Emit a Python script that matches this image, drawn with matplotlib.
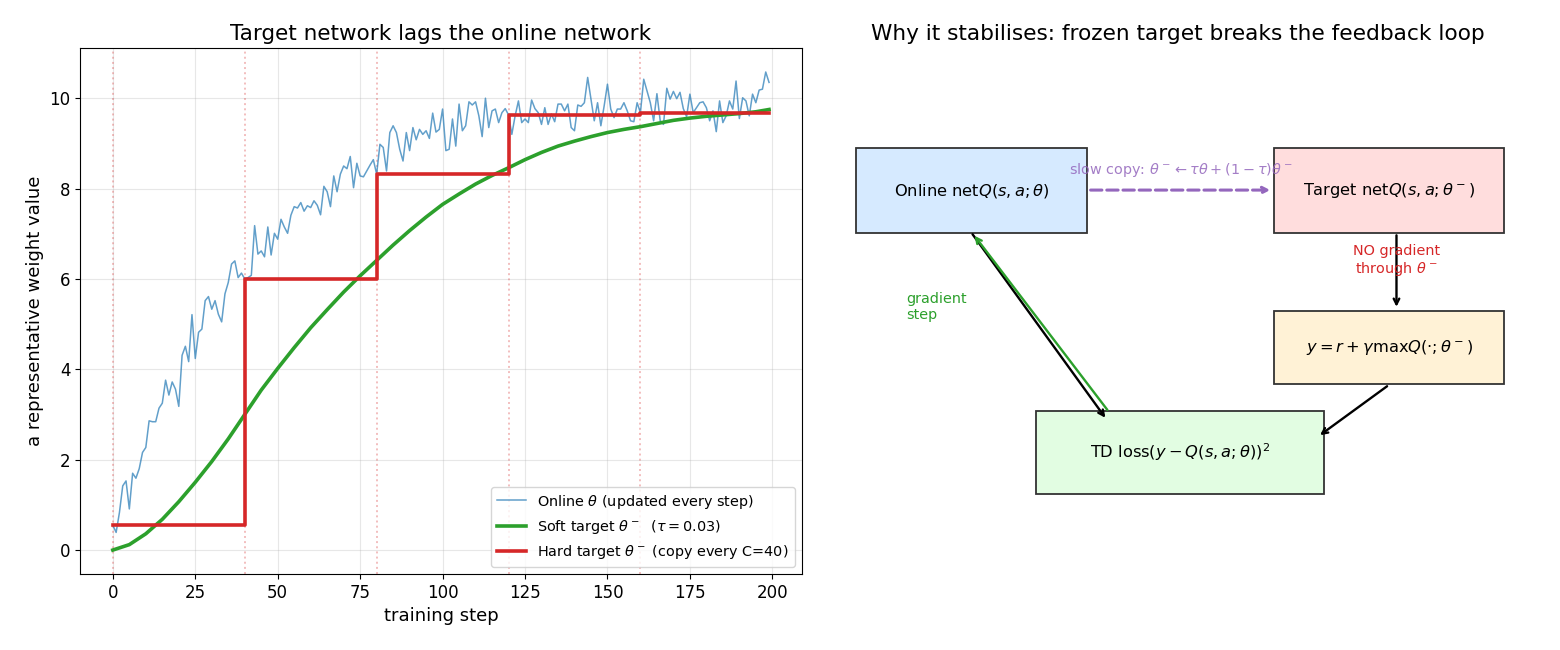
import numpy as np
import matplotlib.pyplot as plt
from matplotlib.patches import Rectangle

# online weight, one value per training step
online = [
    0.55, 0.39, 0.83, 1.42, 1.53, 0.91, 1.70, 1.59, 1.80, 2.16,
    2.27, 2.86, 2.84, 2.84, 3.14, 3.25, 3.76, 3.43, 3.72, 3.56,
    3.18, 4.31, 4.51, 4.17, 5.21, 4.24, 4.82, 4.89, 5.52, 5.61,
    5.33, 5.52, 5.22, 5.05, 5.67, 5.92, 6.33, 6.40, 6.03, 6.13,
    6.00, 6.03, 6.08, 7.18, 6.55, 6.62, 6.49, 7.15, 6.53, 7.01,
    6.88, 7.32, 7.15, 7.01, 7.41, 7.60, 7.57, 7.69, 7.50, 7.62,
    7.58, 7.73, 7.63, 7.42, 8.05, 7.93, 7.60, 8.28, 7.93, 8.32,
    8.50, 8.44, 8.71, 8.02, 8.56, 8.28, 8.26, 8.39, 8.52, 8.64,
    8.32, 8.98, 8.91, 8.39, 9.24, 9.39, 9.24, 8.87, 8.61, 9.24,
    8.84, 9.35, 9.08, 9.31, 9.20, 9.28, 9.11, 9.67, 9.25, 9.31,
    9.76, 8.84, 8.87, 9.54, 8.94, 9.87, 9.28, 9.39, 9.92, 9.85,
    9.92, 9.61, 9.15, 10.00, 9.35, 9.72, 9.76, 9.46, 9.68, 9.77,
    9.63, 9.20, 9.61, 9.94, 9.46, 9.54, 9.46, 9.96, 9.77, 9.68,
    9.42, 9.79, 9.42, 9.65, 9.48, 9.87, 9.87, 9.72, 9.87, 9.35,
    9.28, 9.85, 9.82, 9.90, 10.46, 9.98, 9.50, 9.90, 9.39, 9.83,
    10.31, 9.76, 9.57, 9.76, 9.76, 9.90, 9.72, 9.50, 9.48, 9.90,
    9.68, 10.42, 10.16, 9.90, 9.50, 10.10, 9.50, 9.42, 10.22, 9.98,
    10.15, 9.99, 10.13, 9.77, 9.59, 10.09, 9.68, 9.79, 9.90, 9.92,
    9.79, 9.50, 9.72, 9.26, 9.94, 9.46, 9.61, 9.94, 9.76, 10.38,
    9.55, 10.01, 9.94, 9.61, 10.09, 9.90, 10.18, 10.20, 10.58, 10.35,
]

# soft target read every 5 steps
soft_steps = [0, 5, 10, 15, 20, 25, 30, 35, 40, 45, 50, 55, 60, 65, 70, 75, 80,
              85, 90, 95, 100, 105, 110, 115, 120, 125, 130, 135, 140, 145,
              150, 155, 160, 165, 170, 175, 180, 185, 190, 195, 199]
soft_vals = [0.0, 0.12, 0.36, 0.68, 1.07, 1.50, 1.96, 2.46, 3.00, 3.54, 4.02,
             4.48, 4.92, 5.32, 5.71, 6.07, 6.41, 6.75, 7.07, 7.37, 7.65, 7.88,
             8.10, 8.29, 8.46, 8.64, 8.80, 8.94, 9.05, 9.15, 9.24, 9.31, 9.37,
             9.44, 9.51, 9.56, 9.60, 9.63, 9.66, 9.70, 9.75]

# hard target copies
copy_steps = [0, 40, 80, 120, 160]
copy_vals = [0.55, 6.00, 8.32, 9.63, 9.68]

fig = plt.figure(figsize=(15.6, 6.5), dpi=100)

# ---- left: weight trajectories ----
ax = fig.add_axes([0.0513, 0.117, 0.4627, 0.809])
steps = np.arange(len(online))
for c in copy_steps:
    ax.axvline(c, color='tab:red', ls=':', lw=1.4, alpha=0.3)
ax.plot(steps, online, color='tab:blue', lw=1.1, alpha=0.7,
        label=r'Online $\theta$ (updated every step)')
ax.plot(soft_steps, soft_vals, color='tab:green', lw=2.6,
        label=r'Soft target $\theta^-$  ($\tau=0.03$)')
ax.step(copy_steps + [steps[-1]], copy_vals + [copy_vals[-1]], where='post',
        color='tab:red', lw=2.6, label=r'Hard target $\theta^-$ (copy every C=40)')
ax.set_title('Target network lags the online network', fontsize=15.5)
ax.set_xlabel('training step', fontsize=13)
ax.set_ylabel('a representative weight value', fontsize=13)
ax.tick_params(labelsize=12)
ax.grid(alpha=0.3)
ax.legend(loc='lower right', fontsize=10.4)

# ---- right: diagram ----
ax2 = fig.add_axes([0.54, 0.117, 0.43, 0.809])
ax2.set_xlim(0, 10)
ax2.set_ylim(0, 10)
ax2.axis('off')
ax2.set_title('Why it stabilises: frozen target breaks the feedback loop', fontsize=15.6)

boxes = [
    (0.21, 6.48, 3.44, 1.62, '#d6eaff', r'Online net$Q(s,a;\theta)$'),
    (6.44, 6.48, 3.43, 1.62, '#ffdddd', r'Target net$Q(s,a;\theta^-)$'),
    (6.44, 3.61, 3.43, 1.39, '#fff2d6', r'$y=r+\gamma\max Q(\cdot;\theta^-)$'),
    (2.89, 1.52, 4.29, 1.58, '#e2fde2', r'TD loss$(y-Q(s,a;\theta))^2$'),
]
for x, y, w, h, fc, txt in boxes:
    ax2.add_patch(Rectangle((x, y), w, h, facecolor=fc, edgecolor='#333333', lw=1.3))
    ax2.text(x + w / 2, y + h / 2, txt, ha='center', va='center', fontsize=11.7)

def arrow(start, end, color='black', ls='-', lw=1.7):
    ax2.annotate('', xy=end, xytext=start,
                 arrowprops=dict(arrowstyle='->', color=color, lw=lw, ls=ls,
                                 shrinkA=0, shrinkB=0))

arrow((3.70, 7.30), (6.38, 7.30), color='tab:purple', ls='--', lw=2.2)
ax2.text(5.04, 7.68, r'slow copy: $\theta^-\leftarrow\tau\theta+(1-\tau)\theta^-$',
         color='tab:purple', ha='center', va='center', fontsize=10.4, alpha=0.85)
arrow((8.26, 6.44), (8.26, 5.08))
ax2.text(8.26, 5.95, 'NO gradient\nthrough $\\theta^-$', color='tab:red',
         ha='center', va='center', fontsize=10.4)
arrow((8.12, 3.57), (7.12, 2.64))
arrow((1.94, 6.46), (3.92, 2.97))
arrow((3.95, 3.12), (1.97, 6.43), color='tab:green')
ax2.text(0.95, 5.08, 'gradient\nstep', color='tab:green', ha='left', va='center',
         fontsize=10.4)

plt.savefig('out.png', dpi=100)
